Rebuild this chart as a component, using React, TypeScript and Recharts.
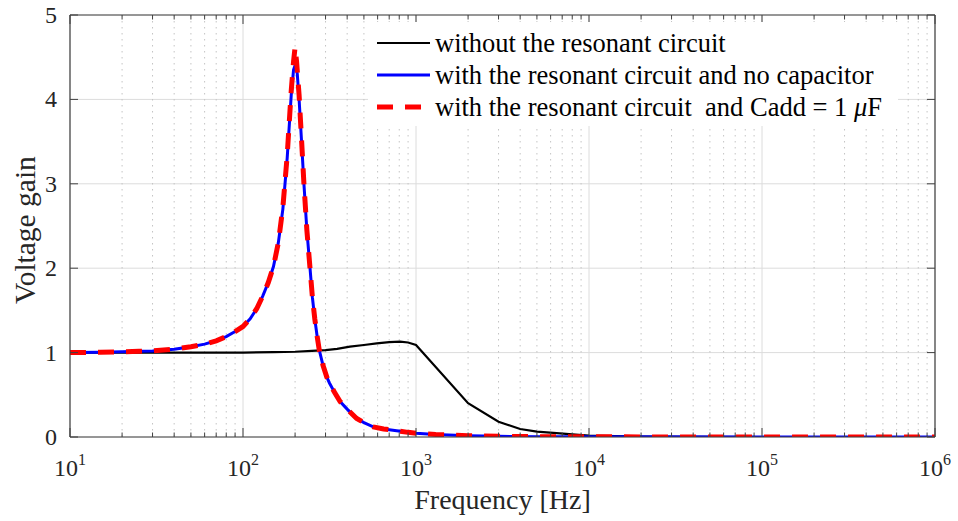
import React from 'react';
import { LineChart, Line, XAxis, YAxis, CartesianGrid, Legend, Label } from 'recharts';

// ---------- data ----------
const FREQ_WITHOUT = [10, 20, 50, 100, 150, 200, 250, 300, 350, 415, 500, 593, 700, 809, 900, 1000, 2000, 3000, 4000, 5000, 6500, 8000, 10000, 20000, 50000, 100000, 1000000];
const GAIN_WITHOUT = [1.0, 1.0, 1.0, 1.0, 1.005, 1.01, 1.02, 1.03, 1.045, 1.07, 1.09, 1.11, 1.125, 1.13, 1.12, 1.09, 0.40, 0.18, 0.095, 0.063, 0.045, 0.03, 0.018, 0.005, 0.001, 0, 0];

const FREQ_NOCAP = [10, 15, 20, 25, 30, 40, 50, 60, 70, 80, 90, 100, 110, 120, 130, 140, 150, 160, 170, 180, 190, 196, 202, 206, 211, 218, 225, 234, 244, 252, 260, 268, 276, 290, 305, 316, 340, 364, 400, 454, 500, 566, 650, 773, 900, 1000, 1300, 2000, 3000, 5000, 10000, 100000, 1000000];
const GAIN_NOCAP = [1.0, 1.005, 1.01, 1.015, 1.02, 1.04, 1.07, 1.10, 1.14, 1.19, 1.25, 1.31, 1.40, 1.52, 1.67, 1.83, 2.02, 2.30, 2.70, 3.30, 4.05, 4.35, 4.43, 4.30, 4.00, 3.50, 3.00, 2.45, 2.00, 1.65, 1.40, 1.20, 1.03, 0.85, 0.71, 0.64, 0.52, 0.42, 0.33, 0.22, 0.17, 0.12, 0.095, 0.075, 0.055, 0.045, 0.03, 0.015, 0.008, 0.004, 0.002, 0, 0];

const FREQ_CADD = [10, 15, 20, 25, 30, 40, 50, 60, 70, 80, 90, 100, 110, 120, 130, 140, 150, 160, 170, 180, 190, 196, 200, 204, 211, 218, 225, 234, 244, 252, 260, 268, 276, 290, 305, 316, 340, 364, 400, 454, 500, 566, 650, 773, 900, 1000, 1300, 2000, 3000, 5000, 10000, 100000, 1000000];
const GAIN_CADD = [1.0, 1.005, 1.01, 1.015, 1.02, 1.04, 1.07, 1.10, 1.14, 1.19, 1.25, 1.31, 1.40, 1.52, 1.67, 1.83, 2.02, 2.30, 2.72, 3.33, 4.10, 4.45, 4.62, 4.45, 4.05, 3.52, 3.00, 2.45, 2.00, 1.65, 1.40, 1.20, 1.03, 0.85, 0.71, 0.64, 0.52, 0.42, 0.33, 0.22, 0.17, 0.12, 0.095, 0.075, 0.055, 0.045, 0.03, 0.015, 0.008, 0.004, 0.002, 0, 0];

const MAJOR_FREQS = [10, 100, 1000, 10000, 100000, 1000000];
const X_TICK_EXPONENTS = ['1', '2', '3', '4', '5', '6'];
const MINOR_FREQS = [
  20, 30, 40, 50, 60, 70, 80, 90,
  200, 300, 400, 500, 600, 700, 800, 900,
  2000, 3000, 4000, 5000, 6000, 7000, 8000, 9000,
  20000, 30000, 40000, 50000, 60000, 70000, 80000, 90000,
  200000, 300000, 400000, 500000, 600000, 700000, 800000, 900000,
];
const ALL_X_TICKS = [...MAJOR_FREQS, ...MINOR_FREQS].sort((a, b) => a - b);
const Y_TICKS = [0, 1, 2, 3, 4, 5];

const SERIES_NAMES = [
  'without the resonant circuit',
  'with the resonant circuit and no capacitor',
  'with the resonant circuit  and Cadd = 1 \u03bcF',
];

const toRows = (fs: number[], gs: number[]) => fs.map((f, i) => ({ f, g: gs[i] }));
const DATA_WITHOUT = toRows(FREQ_WITHOUT, GAIN_WITHOUT);
const DATA_NOCAP = toRows(FREQ_NOCAP, GAIN_NOCAP);
const DATA_CADD = toRows(FREQ_CADD, GAIN_CADD);

// ---------- style ----------
const FONT = '"Liberation Serif", "Times New Roman", Times, serif';
const AXIS = '#404040';
const TEXT = '#262626';

const SERIES_STYLE = [
  { color: '#000000', width: 2.2, dash: undefined as string | undefined },
  { color: '#0000ff', width: 3, dash: undefined as string | undefined },
  { color: '#ff0000', width: 5, dash: '16 12' },
];

function BottomTick(props: any) {
  const { x, y, payload } = props;
  const i = MAJOR_FREQS.indexOf(payload.value);
  const major = i >= 0;
  return (
    <g>
      <line x1={x} x2={x} y1={y} y2={y - (major ? 9 : 4.5)} stroke={AXIS} strokeWidth={1} />
      {major && (
        <text x={x} y={y + 39} textAnchor="middle" fontSize={24} fontFamily={FONT} fill={TEXT}>
          10<tspan dy={-11} fontSize={16}>{X_TICK_EXPONENTS[i]}</tspan>
        </text>
      )}
    </g>
  );
}

function TopTick(props: any) {
  const { x, y, payload } = props;
  const major = MAJOR_FREQS.indexOf(payload.value) >= 0;
  return <line x1={x} x2={x} y1={y} y2={y + (major ? 9 : 4.5)} stroke={AXIS} strokeWidth={1} />;
}

function LeftTick(props: any) {
  const { x, y, payload } = props;
  return (
    <g>
      <line x1={x} x2={x + 8} y1={y} y2={y} stroke={AXIS} strokeWidth={1} />
      <text x={x - 13} y={y + 8} textAnchor="end" fontSize={24} fontFamily={FONT} fill={TEXT}>
        {payload.value}
      </text>
    </g>
  );
}

function RightTick(props: any) {
  const { x, y } = props;
  return <line x1={x} x2={x - 8} y1={y} y2={y} stroke={AXIS} strokeWidth={1} />;
}

function renderName(name: string) {
  const idx = name.indexOf('\u03bc');
  if (idx < 0) return name;
  return (
    <>
      {name.slice(0, idx)}
      <span style={{ fontStyle: 'italic' }}>{'\u03bc'}</span>
      {name.slice(idx + 1)}
    </>
  );
}

function LegendBox() {
  return (
    <div
      style={{
        background: '#ffffff',
        width: 530,
        height: 104,
        boxSizing: 'border-box',
        padding: '5px 0 0 9px',
        fontFamily: FONT,
        fontSize: 26.5,
        color: '#000',
      }}
    >
      {SERIES_NAMES.map((name, i) => (
        <div key={name} style={{ display: 'flex', alignItems: 'center', height: 32, whiteSpace: 'pre' }}>
          <svg width={53} height={32} style={{ display: 'block' }}>
            <line
              x1={0}
              x2={53}
              y1={16}
              y2={16}
              stroke={SERIES_STYLE[i].color}
              strokeWidth={SERIES_STYLE[i].width}
              strokeDasharray={SERIES_STYLE[i].dash}
            />
          </svg>
          <span style={{ marginLeft: 5, lineHeight: '32px' }}>{renderName(name)}</span>
        </div>
      ))}
    </div>
  );
}

export default function App() {
  return (
    <div style={{ position: 'absolute', left: 0, top: 0, background: '#fff' }}>
      <LineChart width={958} height={521} margin={{ top: 0, right: 0, bottom: 0, left: 0 }}>
        <CartesianGrid
          xAxisId="b"
          yAxisId="l"
          verticalValues={MAJOR_FREQS}
          horizontalValues={Y_TICKS}
          stroke="#dcdcdc"
          strokeWidth={1}
        />
        <CartesianGrid
          xAxisId="b"
          yAxisId="l"
          horizontal={false}
          verticalValues={MINOR_FREQS}
          stroke="#c4c4c4"
          strokeWidth={1}
          strokeDasharray="1.5 4.5"
        />
        <XAxis
          xAxisId="b"
          dataKey="f"
          type="number"
          scale="log"
          domain={[10, 1000000]}
          allowDataOverflow
          ticks={ALL_X_TICKS}
          interval={0}
          tickSize={0}
          tickMargin={0}
          tickLine={false}
          tick={<BottomTick />}
          axisLine={{ stroke: AXIS, strokeWidth: 1.2 }}
          height={84}
        >
          <Label
            content={(p: any) => {
              const vb = p.viewBox || { x: 70, y: 437, width: 865 };
              return (
                <text x={vb.x + vb.width / 2} y={vb.y + 72} textAnchor="middle" fontSize={28} fontFamily={FONT} fill={TEXT}>
                  Frequency [Hz]
                </text>
              );
            }}
          />
        </XAxis>
        <XAxis
          xAxisId="t"
          orientation="top"
          dataKey="f"
          type="number"
          scale="log"
          domain={[10, 1000000]}
          allowDataOverflow
          ticks={ALL_X_TICKS}
          interval={0}
          tickSize={0}
          tickMargin={0}
          tickLine={false}
          tick={<TopTick />}
          axisLine={{ stroke: AXIS, strokeWidth: 1.2 }}
          height={15}
        />
        <YAxis
          yAxisId="l"
          type="number"
          domain={[0, 5]}
          allowDataOverflow
          ticks={Y_TICKS}
          interval={0}
          tickSize={0}
          tickMargin={0}
          tickLine={false}
          tick={<LeftTick />}
          axisLine={{ stroke: AXIS, strokeWidth: 1.2 }}
          width={70}
        >
          <Label
            content={(p: any) => {
              const vb = p.viewBox || { x: 0, y: 15, width: 70, height: 422 };
              const cx = vb.x + 35;
              const cy = vb.y + vb.height / 2 + 4;
              return (
                <text
                  x={cx}
                  y={cy}
                  transform={`rotate(-90 ${cx} ${cy})`}
                  textAnchor="middle"
                  fontSize={29.5}
                  fontFamily={FONT}
                  fill={TEXT}
                >
                  Voltage gain
                </text>
              );
            }}
          />
        </YAxis>
        <YAxis
          yAxisId="r"
          orientation="right"
          type="number"
          domain={[0, 5]}
          allowDataOverflow
          ticks={Y_TICKS}
          interval={0}
          tickSize={0}
          tickMargin={0}
          tickLine={false}
          tick={<RightTick />}
          axisLine={{ stroke: AXIS, strokeWidth: 1.2 }}
          width={23}
        />
        <Line
          xAxisId="b"
          yAxisId="l"
          data={DATA_WITHOUT}
          dataKey="g"
          name={SERIES_NAMES[0]}
          type="linear"
          stroke={SERIES_STYLE[0].color}
          strokeWidth={SERIES_STYLE[0].width}
          dot={false}
          activeDot={false}
          isAnimationActive={false}
        />
        <Line
          xAxisId="b"
          yAxisId="l"
          data={DATA_NOCAP}
          dataKey="g"
          name={SERIES_NAMES[1]}
          type="linear"
          stroke={SERIES_STYLE[1].color}
          strokeWidth={SERIES_STYLE[1].width}
          dot={false}
          activeDot={false}
          isAnimationActive={false}
        />
        <Line
          xAxisId="b"
          yAxisId="l"
          data={DATA_CADD}
          dataKey="g"
          name={SERIES_NAMES[2]}
          type="linear"
          stroke={SERIES_STYLE[2].color}
          strokeWidth={SERIES_STYLE[2].width}
          strokeDasharray={SERIES_STYLE[2].dash}
          dot={false}
          activeDot={false}
          isAnimationActive={false}
        />
        <Legend
          layout="vertical"
          align="center"
          verticalAlign="middle"
          content={() => <LegendBox />}
          wrapperStyle={{ left: 368, top: 22, width: 530, height: 104 }}
        />
      </LineChart>
    </div>
  );
}
